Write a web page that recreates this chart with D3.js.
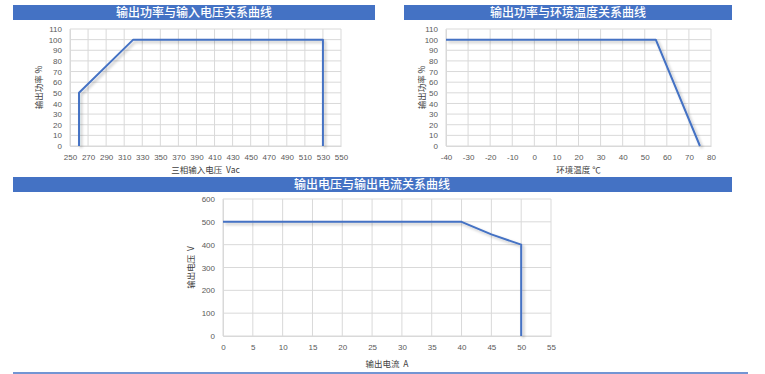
<!DOCTYPE html>
<html>
<head>
<meta charset="utf-8">
<script src="https://cdn.jsdelivr.net/npm/d3@7/dist/d3.min.js"></script>
<style>
  body { margin: 0; background: #fff; }
  svg { display: block; font-family: "Noto Sans CJK SC", "Noto Sans", sans-serif; }
  text { white-space: pre; }
</style>
</head>
<body>
<svg id="chart" width="765" height="374"></svg>
<script>
// chart 1: output power vs input voltage
const voltIn = [260, 260, 320, 530, 530];
const powerByVolt = [0, 50, 100, 100, 0];
const voltTicks = d3.range(250, 551, 20);
// chart 2: output power vs ambient temperature
const temps = [-40, 55, 75];
const powerByTemp = [100, 100, 0];
const tempTicks = d3.range(-40, 81, 10);
const pctTicks = d3.range(0, 111, 10);
// chart 3: output voltage vs output current
const currents = [0, 40, 45, 50, 50];
const voltOut = [500, 500, 445, 400, 0];
const currentTicks = d3.range(0, 56, 5);
const voltOutTicks = d3.range(0, 601, 100);

const titles = ["输出功率与输入电压关系曲线", "输出功率与环境温度关系曲线", "输出电压与输出电流关系曲线"];

const blue = "#4472c4";
const grid = "#d9d9d9";
const labelColor = "#595959";

const svg = d3.select("#chart");

const defs = svg.append("defs");
const shadow = defs.append("filter").attr("id", "shadow")
  .attr("x", "-10%").attr("y", "-10%").attr("width", "130%").attr("height", "130%");
shadow.append("feGaussianBlur").attr("in", "SourceAlpha").attr("stdDeviation", 1.5);
shadow.append("feOffset").attr("dx", 2).attr("dy", 2).attr("result", "off");
shadow.append("feComponentTransfer").append("feFuncA").attr("type", "linear").attr("slope", 0.25);
const merge = shadow.append("feMerge");
merge.append("feMergeNode");
merge.append("feMergeNode").attr("in", "SourceGraphic");

function titleBar(x0, x1, y, text, cx) {
  svg.append("rect").attr("x", x0).attr("y", y).attr("width", x1 - x0).attr("height", 15).attr("fill", blue);
  svg.append("text").attr("x", cx).attr("y", y + 12).attr("text-anchor", "middle")
    .attr("fill", "#fff").attr("font-size", 12).attr("font-weight", 500).text(text);
}

function drawChart(opt) {
  const { x0, x1, y0, y1, xDomain, yDomain, xTicks, yTicks, xs, ys, xTitle, yTitle, yTitleX, xTitleGap } = opt;
  const x = d3.scaleLinear().domain(xDomain).range([x0, x1]);
  const y = d3.scaleLinear().domain(yDomain).range([y1, y0]);
  const g = svg.append("g");

  g.append("g").selectAll("line").data(xTicks).join("line")
    .attr("x1", d => x(d)).attr("x2", d => x(d)).attr("y1", y0).attr("y2", y1)
    .attr("stroke", grid).attr("stroke-width", 1);
  g.append("g").selectAll("line").data(yTicks).join("line")
    .attr("x1", x0).attr("x2", x1).attr("y1", d => y(d)).attr("y2", d => y(d))
    .attr("stroke", grid).attr("stroke-width", 1);

  const xAxis = g.append("g").attr("transform", `translate(0,${y1})`)
    .call(d3.axisBottom(x).tickValues(xTicks).tickSize(0).tickPadding(8).tickFormat(d => String(d)));
  xAxis.select(".domain").attr("stroke", grid);
  xAxis.selectAll("text").attr("fill", labelColor).attr("font-size", 8);

  const yAxis = g.append("g").attr("transform", `translate(${x0},0)`)
    .call(d3.axisLeft(y).tickValues(yTicks).tickSize(0).tickPadding(8).tickFormat(d => String(d)));
  yAxis.select(".domain").attr("stroke", grid);
  yAxis.selectAll("text").attr("fill", labelColor).attr("font-size", 8);

  const pts = xs.map((v, i) => [v, ys[i]]);
  g.append("path").datum(pts)
    .attr("d", d3.line().x(d => x(d[0])).y(d => y(d[1])))
    .attr("fill", "none").attr("stroke", blue).attr("stroke-width", 2)
    .attr("stroke-linejoin", "round").attr("filter", "url(#shadow)");

  g.append("text").attr("x", (x0 + x1) / 2).attr("y", y1 + xTitleGap).attr("text-anchor", "middle")
    .attr("fill", "#404040").attr("font-size", 8.5).text(xTitle);
  g.append("text").attr("transform", `translate(${yTitleX},${(y0 + y1) / 2}) rotate(-90)`)
    .attr("text-anchor", "middle").attr("fill", "#404040").attr("font-size", 8.5).text(yTitle);
}

titleBar(13, 375, 5, titles[0], 194);
titleBar(404, 732, 5, titles[1], 568);
titleBar(13, 732, 177, titles[2], 372);

drawChart({
  x0: 70, x1: 341, y0: 29, y1: 146,
  xDomain: [250, 550], yDomain: [0, 110],
  xTicks: voltTicks, yTicks: pctTicks,
  xs: voltIn, ys: powerByVolt,
  xTitle: "三相输入电压  Vac", yTitle: "输出功率 %", yTitleX: 42, xTitleGap: 27
});

drawChart({
  x0: 446, x1: 711, y0: 29, y1: 146,
  xDomain: [-40, 80], yDomain: [0, 110],
  xTicks: tempTicks, yTicks: pctTicks,
  xs: temps, ys: powerByTemp,
  xTitle: "环境温度 ℃", yTitle: "输出功率 %", yTitleX: 425, xTitleGap: 27
});

drawChart({
  x0: 223, x1: 551, y0: 199, y1: 336,
  xDomain: [0, 55], yDomain: [0, 600],
  xTicks: currentTicks, yTicks: voltOutTicks,
  xs: currents, ys: voltOut,
  xTitle: "输出电流  A", yTitle: "输出电压  V", yTitleX: 194, xTitleGap: 31
});

svg.append("line").attr("x1", 13).attr("x2", 748).attr("y1", 373).attr("y2", 373)
  .attr("stroke", blue).attr("stroke-width", 1.5);
</script>
</body>
</html>
